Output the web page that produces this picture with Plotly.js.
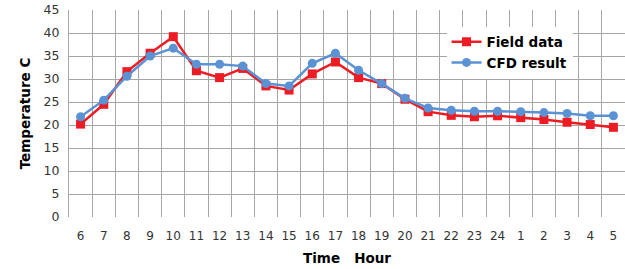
<!DOCTYPE html>
<html>
<head>
<meta charset="utf-8">
<script src="https://cdn.plot.ly/plotly-3.0.1.min.js"></script>
<style>html,body{margin:0;padding:0;background:#fff;}#chart{width:625px;height:269px;}</style>
</head>
<body>
<div id="chart"></div>
<script>
const hours = ["6","7","8","9","10","11","12","13","14","15","16","17","18","19","20","21","22","23","24","1","2","3","4","5"];
const fieldData = [20.2,24.5,31.6,35.6,39.2,31.8,30.3,32.3,28.5,27.6,31.1,33.7,30.3,29.0,25.6,22.9,22.1,21.8,22.0,21.6,21.2,20.6,20.1,19.5];
const cfdResult = [21.8,25.4,30.6,35.0,36.7,33.2,33.2,32.8,29.0,28.5,33.4,35.6,31.9,29.0,25.8,23.7,23.2,23.0,23.0,22.9,22.7,22.5,22.0,22.0];
const seriesNames = ["Field data","CFD result"];
const yTicks = [0,5,10,15,20,25,30,35,40,45];

const traces = [
  {x: hours, y: fieldData, name: seriesNames[0], type: 'scatter', mode: 'lines+markers',
   line: {color: '#ec1c24', width: 2.5}, marker: {symbol: 'square', size: 9, color: '#ec1c24'}},
  {x: hours, y: cfdResult, name: seriesNames[1], type: 'scatter', mode: 'lines+markers',
   line: {color: '#5b92d4', width: 2.5}, marker: {symbol: 'circle', size: 9, color: '#5b92d4'}}
];

const layout = {
  width: 625, height: 269,
  margin: {l: 69, r: 0, t: 10, b: 52},
  paper_bgcolor: '#fff', plot_bgcolor: '#fff',
  font: {family: 'DejaVu Sans, Verdana, sans-serif', size: 12.5, color: '#333'},
  showlegend: true,
  legend: {x: 0.679, y: 0.92, xanchor: 'left', yanchor: 'top', bgcolor: '#fff',
           font: {size: 13.5, color: '#000', family: 'DejaVu Sans, Verdana, sans-serif', weight: 'bold'},
           tracegroupgap: 0, itemwidth: 30},
  xaxis: {type: 'category', range: [-0.5, 23.5], tickson: 'boundaries', showgrid: true,
          gridcolor: '#a6a6a6', gridwidth: 1, ticks: '', ticklabelstandoff: 10, tickangle: 0,
          tickfont: {size: 12},
          showline: false, zeroline: false, fixedrange: true,
          title: {text: 'Time&nbsp;&nbsp;&nbsp;Hour', font: {size: 13.5, color: '#000', weight: 'bold'}, standoff: 11}},
  yaxis: {range: [0, 45], tickvals: yTicks, showgrid: true, gridcolor: '#a6a6a6', gridwidth: 1,
          showline: true, linecolor: '#a6a6a6', zeroline: false, ticks: '', ticklabelstandoff: 6,
          title: {text: 'Temperature C', font: {size: 13.5, color: '#000', weight: 'bold'}, standoff: 9}}
};

Plotly.newPlot('chart', traces, layout, {displayModeBar: false, staticPlot: true});
</script>
</body>
</html>
